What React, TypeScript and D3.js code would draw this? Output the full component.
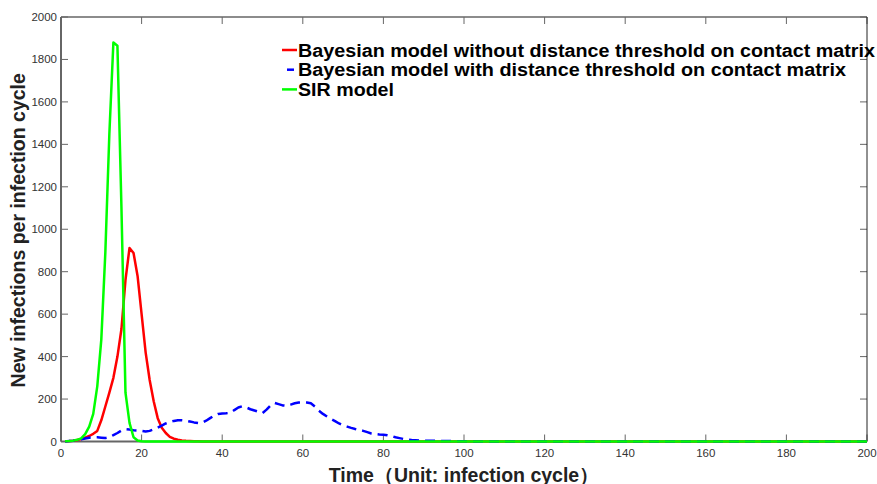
import React from "react";
import * as d3 from "d3";

// Time (infection cycle) starts at 1
const firstCycle = 1;
const lastCycle = 200;

// Bayesian model without distance threshold (red), t = 1..35
const bayesNoThreshold = [
  1, 2, 4, 7, 12, 18, 26, 36, 50, 100, 165, 230, 300, 400, 530, 760, 912, 888, 780, 600,
  420, 290, 190, 110, 65, 40, 22, 13, 8, 5, 3, 2, 1, 1, 0,
];

// Bayesian model with distance threshold (blue dashed), t = 1..101
const bayesThreshold = [
  0, 2, 4, 7, 10, 14, 18, 20, 20, 18, 16, 20, 30, 40, 52, 58, 56, 53, 52, 50,
  47, 50, 57, 65, 75, 85, 92, 97, 100, 100, 98, 94, 90, 87, 88, 98, 110, 122, 130, 132,
  133, 135, 148, 160, 166, 160, 152, 146, 140, 134, 150, 170, 182, 176, 170, 168, 174, 180, 184, 185,
  184, 180, 165, 145, 130, 118, 106, 96, 85, 76, 70, 64, 59, 55, 50, 44, 38, 35, 33, 32,
  30, 26, 20, 16, 12, 9, 7, 6, 5, 4, 3, 3, 3, 3, 2, 2, 2, 2, 1, 1, 0,
];

// SIR model (green), t = 1..21
const sirModel = [
  1, 2, 4, 8, 15, 35, 70, 130, 260, 480, 890, 1450, 1880, 1865, 1100, 230, 88, 20, 5, 1, 0,
];

const xTicks = [0, 20, 40, 60, 80, 100, 120, 140, 160, 180, 200];
const yTicks = [0, 200, 400, 600, 800, 1000, 1200, 1400, 1600, 1800, 2000];

const legendLabels = [
  "Bayesian model without distance threshold on contact matrix",
  "Bayesian model with distance threshold on contact matrix",
  "SIR model",
];
const seriesColors = ["#ff0000", "#0000ff", "#00ff00"];

const W = 877;
const H = 484;
const M = { left: 61, right: 867, top: 17, bottom: 441.5 };

function toPoints(vals: number[]): [number, number][] {
  const pts: [number, number][] = vals.map((v, i) => [firstCycle + i, v]);
  pts.push([lastCycle, 0]);
  return pts;
}

export default function App() {
  const x = d3.scaleLinear().domain([0, 200]).range([M.left, M.right]);
  const y = d3.scaleLinear().domain([0, 2000]).range([M.bottom, M.top]);
  const line = d3
    .line<[number, number]>()
    .x((d) => x(d[0]))
    .y((d) => y(d[1]));

  const series = [
    { pts: toPoints(bayesNoThreshold), color: seriesColors[0], dash: undefined },
    { pts: toPoints(bayesThreshold), color: seriesColors[1], dash: "10,6" },
    { pts: toPoints(sirModel), color: seriesColors[2], dash: undefined },
  ];

  const axisColor = "#666";
  const tickLen = 7;
  const font = "'Liberation Sans', Arial, sans-serif";
  const legendWidths = [577, 548, 96];

  return (
    <svg
      width={W}
      height={H}
      style={{ position: "fixed", left: 0, top: 0, background: "#fff" }}
      fontFamily={font}
    >
      <rect x={0} y={0} width={W} height={H} fill="#fff" />
      {/* ticks */}
      {xTicks.map((t) => (
        <g key={"xt" + t}>
          <line x1={x(t)} x2={x(t)} y1={M.bottom} y2={M.bottom - tickLen} stroke={axisColor} strokeWidth={1} />
          <line x1={x(t)} x2={x(t)} y1={M.top} y2={M.top + tickLen} stroke={axisColor} strokeWidth={1} />
          <text x={x(t)} y={457} textAnchor="middle" fontSize={11.5} fill="#333">
            {t}
          </text>
        </g>
      ))}
      {yTicks.map((t) => (
        <g key={"yt" + t}>
          <line x1={M.left} x2={M.left + tickLen} y1={y(t)} y2={y(t)} stroke={axisColor} strokeWidth={1} />
          <line x1={M.right} x2={M.right - tickLen} y1={y(t)} y2={y(t)} stroke={axisColor} strokeWidth={1} />
          <text x={57} y={y(t) + 4} textAnchor="end" fontSize={11.5} fill="#333">
            {t}
          </text>
        </g>
      ))}
      {/* box */}
      <line x1={M.left} x2={M.right} y1={M.top} y2={M.top} stroke={axisColor} strokeWidth={1.5} />
      <line x1={M.left} x2={M.right} y1={M.bottom} y2={M.bottom} stroke={axisColor} strokeWidth={2} />
      <line x1={M.left} x2={M.left} y1={M.top} y2={M.bottom} stroke={axisColor} strokeWidth={2} />
      <line x1={M.right} x2={M.right} y1={M.top} y2={M.bottom} stroke="#222" strokeWidth={1} />

      {/* series */}
      {series.map((s, i) => (
        <path
          key={"s" + i}
          d={line(s.pts) || ""}
          fill="none"
          stroke={s.color}
          strokeWidth={2.5}
          strokeDasharray={s.dash}
          strokeLinejoin="round"
        />
      ))}

      {/* legend */}
      {legendLabels.map((lab, i) => {
        const cy = 50 + i * 19.7;
        return (
          <g key={"lg" + i}>
            {i === 1 ? (
              <line x1={287} x2={294} y1={cy} y2={cy} stroke={seriesColors[i]} strokeWidth={2.5} />
            ) : (
              <line x1={282} x2={297} y1={cy} y2={cy} stroke={seriesColors[i]} strokeWidth={2.5} />
            )}
            <text
              x={298}
              y={cy + 6.6}
              fontSize={17.6}
              fontWeight="bold"
              fill="#000"
              textLength={legendWidths[i]}
              lengthAdjust="spacingAndGlyphs"
            >
              {lab}
            </text>
          </g>
        );
      })}

      {/* axis titles */}
      <text x={464} y={481.5} textAnchor="middle" fontSize={19.5} fontWeight="bold" fill="#222">
        Time（Unit: infection cycle）
      </text>
      <text
        transform={`translate(25, ${(M.top + M.bottom) / 2 + 1}) rotate(-90)`}
        textAnchor="middle"
        fontSize={19.5}
        fontWeight="bold"
        fill="#222"
      >
        New infections per infection cycle
      </text>
    </svg>
  );
}
